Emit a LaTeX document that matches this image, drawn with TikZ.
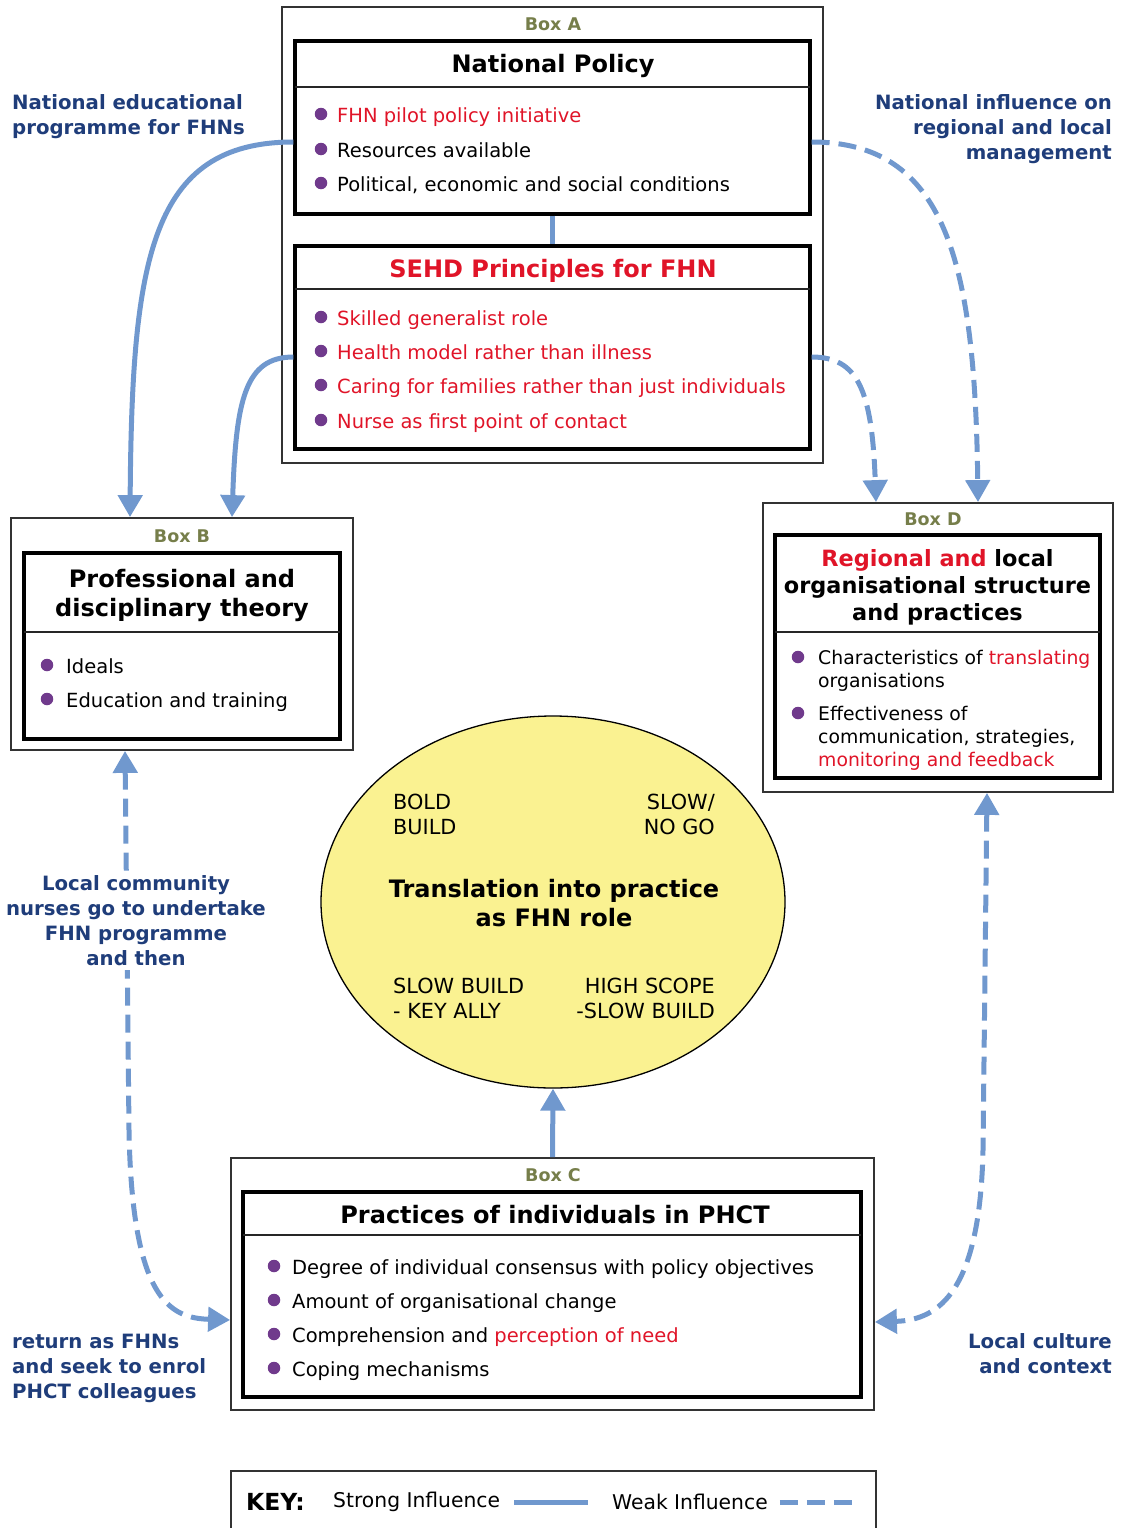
\documentclass[tikz,border=0pt]{standalone}
\usepackage{fontspec}
\setmainfont{DejaVu Sans}
\usetikzlibrary{arrows.meta,shapes.geometric}

\definecolor{flow}{RGB}{112,152,206}
\definecolor{lbl}{RGB}{31,61,122}
\definecolor{hot}{RGB}{224,20,40}
\definecolor{dotc}{RGB}{112,58,140}
\definecolor{boxlbl}{RGB}{118,126,74}
\definecolor{ellfill}{RGB}{250,242,145}

\newcommand{\bodyfont}{\fontsize{19.5}{23}\selectfont}
\newcommand{\headfont}{\fontsize{24}{29}\selectfont\bfseries}
\newcommand{\notefont}{\fontsize{19.7}{25}\selectfont\bfseries}
\newcommand{\tagfont}{\fontsize{17.5}{20}\selectfont\bfseries}

\tikzset{
  bigtip/.tip={Triangle[length=22pt,width=24pt]},
  outerbox/.style={draw=black!80, line width=1.8pt, inner sep=0pt},
  innerbox/.style={draw=black, line width=3.2pt, inner sep=0pt},
  rule/.style={draw=black!85, line width=1.8pt},
  dotmark/.style={circle, fill=dotc, inner sep=0pt, minimum size=12.5pt},
  item/.style={anchor=north west, inner sep=0pt, font=\bodyfont, align=left},
  head/.style={anchor=north, inner sep=0pt, font=\headfont, align=center},
  tag/.style={inner sep=0pt, font=\tagfont, text=boxlbl},
  note/.style={inner sep=0pt, font=\notefont, text=lbl},
  flowline/.style={draw=flow, line width=5pt},
  strong/.style={flowline, -bigtip},
  weak/.style={flowline, dash pattern=on 18pt off 9pt, -bigtip},
  weakboth/.style={flowline, dash pattern=on 18pt off 9pt, bigtip-bigtip},
  elltext/.style={item, font=\fontsize{20.8}{25}\selectfont},
}

\begin{document}
\begin{tikzpicture}[x=1pt,y=-1pt]
\useasboundingbox (0,0) rectangle (1121,1528);

% ---------- Box A : national policy ----------
\node[outerbox, minimum width=541pt, minimum height=456pt] (A) at (552.5,235) {};
\node[tag] (tagA) at (553,24) {Box A};

\node[innerbox, minimum width=515pt, minimum height=173pt] (np) at (552.5,127.5) {};
\draw[rule] (295,87) -- (810,87);
\node[head] (npT) at (553,54) {National Policy};
\node[dotmark] (npd1) at (321,114) {};
\node[item, text=hot] (np1) at (337,107) {FHN pilot policy initiative};
\node[dotmark] (npd2) at (321,149) {};
\node[item] (np2) at (337,142) {Resources available};
\node[dotmark] (npd3) at (321,183) {};
\node[item] (np3) at (337,176) {Political, economic and social conditions};

\node[innerbox, minimum width=515pt, minimum height=203pt] (sehd) at (552.5,347.5) {};
\draw[rule] (295,289) -- (810,289);
\node[head, text=hot] (sehdT) at (553,259) {SEHD Principles for FHN};
\node[dotmark] (sd1) at (321,317) {};
\node[item, text=hot] (s1) at (337,310) {Skilled generalist role};
\node[dotmark] (sd2) at (321,351) {};
\node[item, text=hot] (s2) at (337,344) {Health model rather than illness};
\node[dotmark] (sd3) at (321,385) {};
\node[item, text=hot] (s3) at (337,378) {Caring for families rather than just individuals};
\node[dotmark] (sd4) at (321,420) {};
\node[item, text=hot] (s4) at (337,413) {Nurse as first point of contact};

% ---------- Box B : professional theory ----------
\node[outerbox, minimum width=342pt, minimum height=232pt] (B) at (182,634) {};
\node[tag] (tagB) at (182,536) {Box B};
\node[innerbox, minimum width=316pt, minimum height=186pt] (pb) at (182,646) {};
\draw[rule] (24,632) -- (340,632);
\node[head] (pbT) at (182,569) {Professional and\\disciplinary theory};
\node[dotmark] (bd1) at (47,665) {};
\node[item] (b1) at (66,658) {Ideals};
\node[dotmark] (bd2) at (47,699) {};
\node[item] (b2) at (66,692) {Education and training};

% ---------- Box D : regional and local organisation ----------
\node[outerbox, minimum width=350pt, minimum height=289pt] (D) at (938,647.5) {};
\node[tag] (tagD) at (933,519) {Box D};
\node[innerbox, minimum width=325pt, minimum height=243pt] (rd) at (937.5,656.5) {};
\draw[rule] (775,632) -- (1100,632);
\node[head, font=\fontsize{22.4}{27}\selectfont\bfseries] (rdT) at (937.5,549.5)
  {\textcolor{hot}{Regional and} local\\organisational structure\\and practices};
\node[dotmark] (dd1) at (798,657) {};
\node[item, font=\fontsize{18.8}{23}\selectfont] (d1) at (818,650) {Characteristics of \textcolor{hot}{translating}\\organisations};
\node[dotmark] (dd2) at (798,713) {};
\node[item, font=\fontsize{18.8}{23}\selectfont] (d2) at (818,706) {Effectiveness of\\communication, strategies,\\\textcolor{hot}{monitoring and feedback}};

% ---------- central ellipse ----------
\node[ellipse, draw=black, line width=1.3pt, fill=ellfill, inner sep=0pt,
      minimum width=464pt, minimum height=372pt] (ell) at (553,902) {};
\node[elltext] (e1) at (393,793.5) {BOLD\\BUILD};
\node[elltext, anchor=north east, align=right] (e2) at (715,793.5) {SLOW/\\NO GO};
\node[head] (eT) at (554,879) {Translation into practice\\as FHN role};
\node[elltext] (e3) at (393,977.5) {SLOW BUILD\\- KEY ALLY};
\node[elltext, anchor=north east, align=right] (e4) at (715,977.5) {HIGH SCOPE\\-SLOW BUILD};

% ---------- Box C : individuals in the PHCT ----------
\node[outerbox, minimum width=643pt, minimum height=252pt] (C) at (552.5,1284) {};
\node[tag] (tagC) at (553,1175) {Box C};
\node[innerbox, minimum width=618pt, minimum height=205pt] (pc) at (552,1294.5) {};
\draw[rule] (243,1235) -- (861,1235);
\node[head] (pcT) at (555,1205) {Practices of individuals in PHCT};
\node[dotmark] (cd1) at (274,1266) {};
\node[item] (c1) at (292,1259) {Degree of individual consensus with policy objectives};
\node[dotmark] (cd2) at (274,1300) {};
\node[item] (c2) at (292,1293) {Amount of organisational change};
\node[dotmark] (cd3) at (274,1334) {};
\node[item] (c3) at (292,1327) {Comprehension and \textcolor{hot}{perception of need}};
\node[dotmark] (cd4) at (274,1368) {};
\node[item] (c4) at (292,1361) {Coping mechanisms};

% ---------- influences ----------
\draw[flowline] (np.south) -- (sehd.north);
\draw[strong] ([yshift=-14.5pt]np.west) .. controls (150,142) and (132,260) .. ([xshift=-52pt]B.north);
\draw[strong] ([yshift=-9.5pt]sehd.west) .. controls (245,357) and (236,400) .. ([xshift=50pt]B.north);
\draw[weak] ([yshift=-14.5pt]np.east) .. controls (945,142) and (975,260) .. ([xshift=40pt]D.north);
\draw[weak] ([yshift=-9.5pt]sehd.east) .. controls (858,357) and (872,390) .. ([xshift=-62pt]D.north);
\draw[weakboth] ([xshift=-57pt]B.south) -- (129,1130) .. controls (132,1300) and (170,1318) .. ([yshift=-36pt]C.west);
\draw[weakboth] ([xshift=49pt]D.south) -- (983,1150) .. controls (980,1290) and (940,1320) .. ([yshift=-38pt]C.east);
\draw[strong] (C.north) -- (ell.south);

% ---------- influence labels ----------
\node[note, anchor=north west, align=left] (l1) at (12,94.5) {National educational\\programme for FHNs};
\node[note, anchor=north east, align=right] (l2) at (1112,94.5) {National influence on\\regional and local\\management};
\node[note, anchor=north, align=center, fill=white, inner sep=4pt] (l3) at (136,871.5)
  {Local community\\nurses go to undertake\\FHN programme\\and then};
\node[note, anchor=north west, align=left] (l4) at (12,1333.5) {return as FHNs\\and seek to enrol\\PHCT colleagues};
\node[note, anchor=north east, align=right] (l5) at (1112,1333.5) {Local culture\\and context};

% ---------- key ----------
\node[outerbox, anchor=north west, minimum width=645pt, minimum height=90pt] (key) at (230,1470) {};
\node[inner sep=0pt, anchor=west, font=\fontsize{23.5}{27}\selectfont\bfseries] (kk) at (246,1502) {KEY:};
\node[inner sep=0pt, anchor=west, font=\fontsize{20.3}{24}\selectfont] (ks) at (333,1502) {Strong Influence};
\draw[flowline] ([xshift=14pt]ks.east) -- ++(74,0);
\node[inner sep=0pt, anchor=west, font=\fontsize{20.3}{24}\selectfont] (kw) at (612,1502) {Weak Influence};
\draw[flowline, dash pattern=on 18pt off 9pt] ([xshift=12pt]kw.east) -- ++(72,0);
\end{tikzpicture}
\end{document}
